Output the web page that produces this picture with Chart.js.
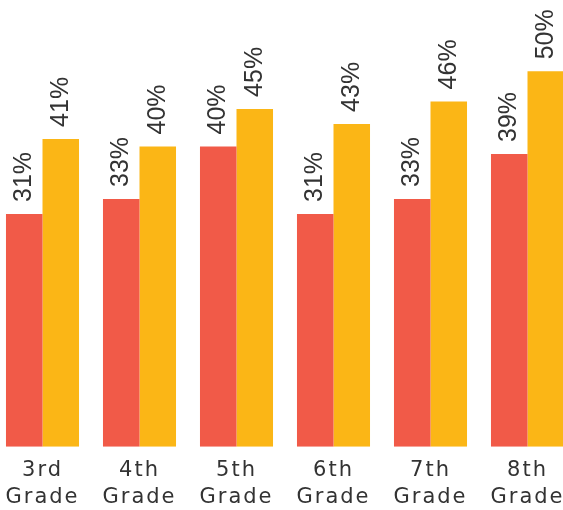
<!DOCTYPE html>
<html>
<head>
<meta charset="utf-8">
<script src="https://cdn.jsdelivr.net/npm/chart.js@4/dist/chart.umd.min.js"></script>
<style>
  html, body { margin: 0; padding: 0; background: #fff; overflow: hidden; }
  #wrap { position: absolute; left: -6px; top: 0; width: 582px; height: 510px; }
</style>
</head>
<body>
<div id="wrap"><canvas id="grafico"></canvas></div>
<script>
// Grados y porcentajes por serie
const grados = [['3rd', 'Grade'], ['4th', 'Grade'], ['5th', 'Grade'], ['6th', 'Grade'], ['7th', 'Grade'], ['8th', 'Grade']];
const serieRoja = [31, 33, 40, 31, 33, 39];
const serieAmarilla = [41, 40, 45, 43, 46, 50];

const colorRojo = '#f15a48';
const colorAmarillo = '#fbb616';
const colorTexto = '#333333';

// Espaciado de letras para las etiquetas del eje x
const espaciado = {
  id: 'espaciado',
  beforeLayout(chart) { chart.ctx.letterSpacing = '2px'; },
  beforeDraw(chart) { chart.ctx.letterSpacing = '2px'; },
  afterDatasetsDraw(chart) { chart.ctx.letterSpacing = '0px'; }
};

// Porcentaje girado encima de cada barra
const etiquetas = {
  id: 'etiquetas',
  afterDatasetsDraw(chart) {
    const ctx = chart.ctx;
    chart.data.datasets.forEach((ds, i) => {
      const meta = chart.getDatasetMeta(i);
      meta.data.forEach((bar, j) => {
        ctx.save();
        ctx.letterSpacing = '0px';
        ctx.translate(bar.x, bar.y - 12);
        ctx.rotate(-Math.PI / 2);
        ctx.font = '25px "Liberation Sans", Arial, sans-serif';
        ctx.fillStyle = colorTexto;
        ctx.textAlign = 'left';
        ctx.textBaseline = 'middle';
        ctx.fillText(ds.data[j] + '%', 0, 0);
        ctx.restore();
      });
    });
  }
};

new Chart(document.getElementById('grafico'), {
  type: 'bar',
  data: {
    labels: grados,
    datasets: [
      { data: serieRoja, backgroundColor: colorRojo },
      { data: serieAmarilla, backgroundColor: colorAmarillo }
    ]
  },
  options: {
    responsive: true,
    maintainAspectRatio: false,
    animation: false,
    layout: { padding: { top: 0, left: 0, right: 0, bottom: -11 } },
    datasets: { bar: { barPercentage: 1, categoryPercentage: 0.753 } },
    plugins: { legend: { display: false }, tooltip: { enabled: false } },
    scales: {
      x: {
        grid: { display: false, drawTicks: false },
        border: { display: false },
        ticks: {
          color: colorTexto,
          padding: 10,
          maxRotation: 0,
          font: { family: '"DejaVu Sans", sans-serif', size: 21, lineHeight: 1.29 }
        }
      },
      y: { display: false, min: 0, max: 59.5 }
    }
  },
  plugins: [espaciado, etiquetas]
});
</script>
</body>
</html>
